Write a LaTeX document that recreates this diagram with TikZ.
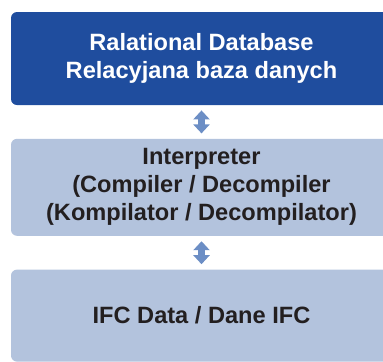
\documentclass[tikz,border=0pt]{standalone}
\usepackage{fontspec}
\setmainfont{Liberation Sans}
\usepackage{tikz}
\usetikzlibrary{arrows.meta,positioning}
\usepackage{xcolor}
\definecolor{dbblue}{HTML}{1F4D9E}
\definecolor{lightbox}{HTML}{B3C3DD}
\definecolor{arrowblue}{HTML}{6C8EC5}
\definecolor{darktext}{HTML}{231F20}

\begin{document}
\begin{tikzpicture}[x=0.5pt, y=-0.5pt,
    layerbox/.style={rounded corners=3pt, minimum width=190.5pt, inner sep=0pt, align=center, font=\fontsize{11.8}{14}\selectfont\bfseries},
    linkarrow/.style={{Triangle[width=8pt,length=4.5pt]}-{Triangle[width=8pt,length=4.5pt]}, line width=3.3pt, arrowblue, shorten >=2.5pt, shorten <=2.5pt}]
    \useasboundingbox (0,0) rectangle (383,361);
    \clip (0,0) rectangle (383,361);

    % Relational database
    \node[layerbox, fill=dbblue, text=white, minimum height=46.5pt] (db) at (201.5,58.5) {Ralational Database\\Relacyjana baza danych};

    % Interpreter
    \node[layerbox, fill=lightbox, text=darktext, minimum height=48.5pt, below=16.5pt of db] (interp) {Interpreter\\(Compiler / Decompiler\\(Kompilator / Decompilator)};

    % IFC data
    \node[layerbox, fill=lightbox, text=darktext, minimum height=46pt, below=16.5pt of interp] (ifc) {IFC Data / Dane IFC};

    % Arrows
    \draw[linkarrow] (db) -- (interp);
    \draw[linkarrow] (interp) -- (ifc);
\end{tikzpicture}
\end{document}
